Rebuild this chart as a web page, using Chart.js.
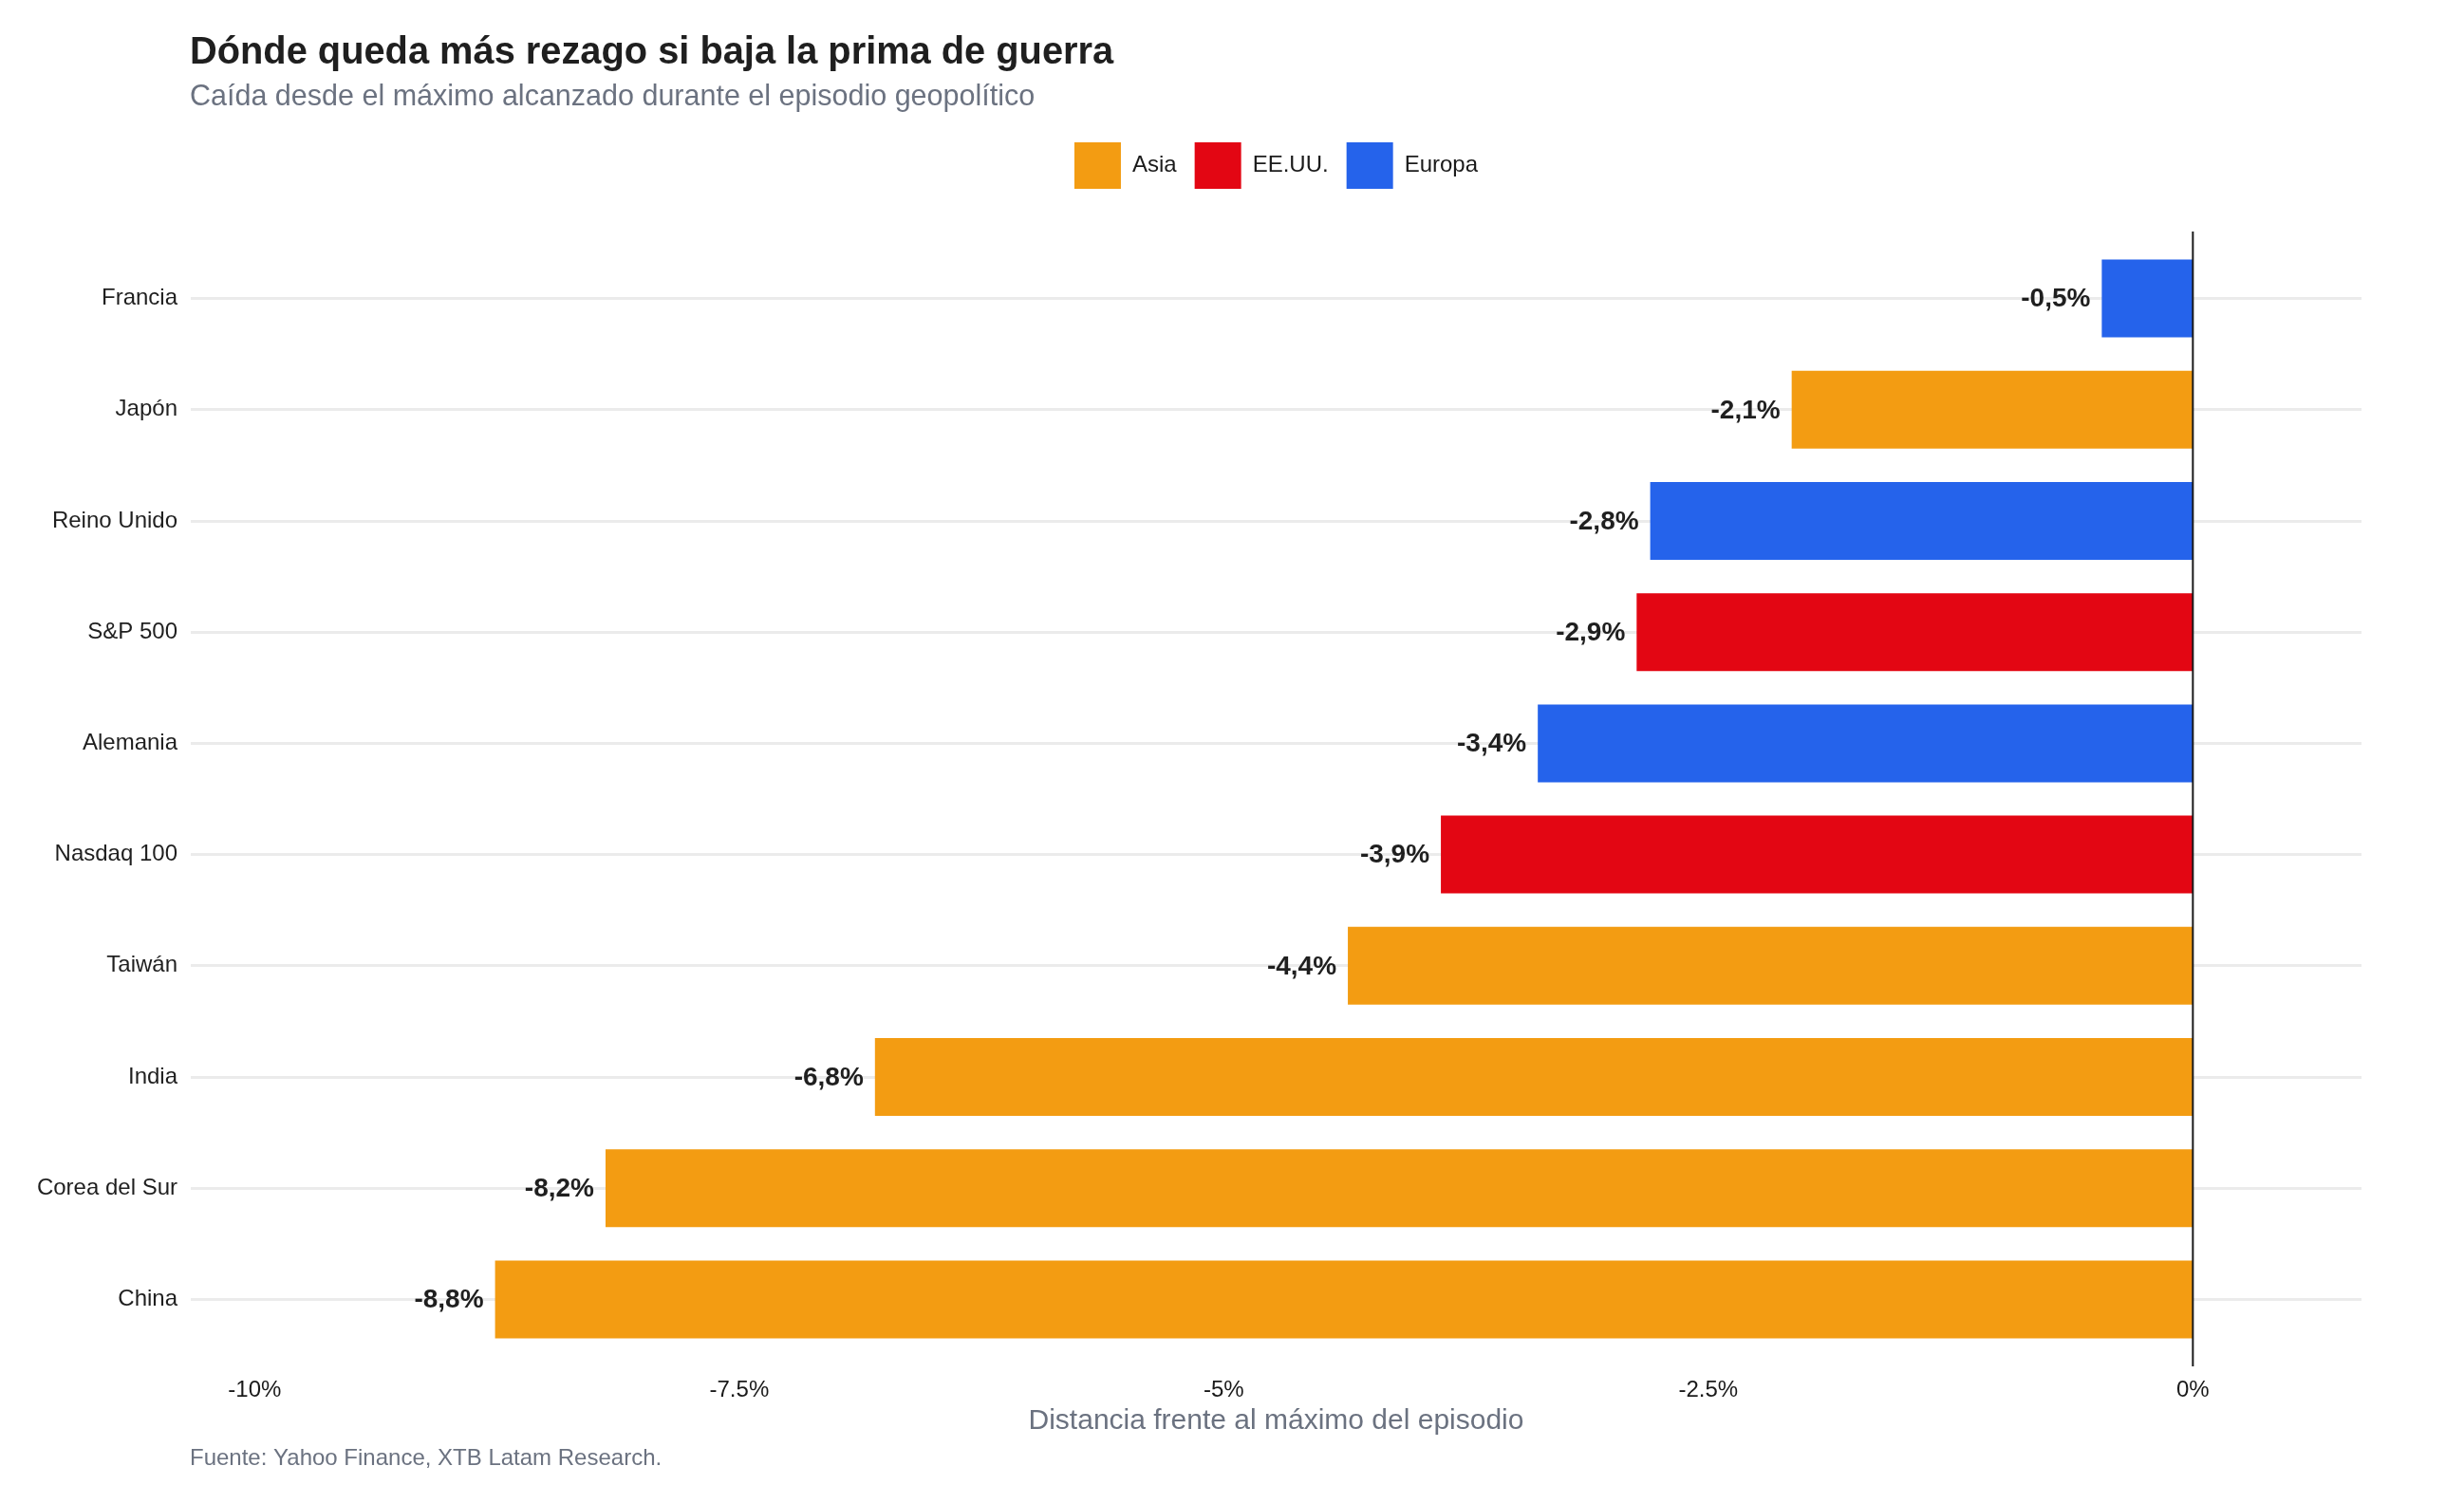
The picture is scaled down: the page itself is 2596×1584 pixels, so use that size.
<!DOCTYPE html>
<html><head><meta charset="utf-8">
<script src="https://cdn.jsdelivr.net/npm/chart.js@4.4.1/dist/chart.umd.min.js"></script>
<style>html,body{margin:0;padding:0;background:#fff;}</style>
</head><body>
<canvas id="c" width="2596" height="1584" style="width:2596px;height:1584px;display:block"></canvas>
<script>
const categories = ['Francia','Japón','Reino Unido','S&P 500','Alemania','Nasdaq 100','Taiwán','India','Corea del Sur','China'];
const values = [-0.47,-2.07,-2.80,-2.87,-3.38,-3.88,-4.36,-6.80,-8.19,-8.76];
const regions = ['Europa','Asia','Europa','EE.UU.','Europa','EE.UU.','Asia','Asia','Asia','Asia'];
const groups = ['Asia','EE.UU.','Europa'];
const groupColors = ['#f39c12','#e30613','#2563eb'];
const xTicks = [-10,-7.5,-5,-2.5,0];
const xTickLabels = ['-10%','-7.5%','-5%','-2.5%','0%'];
const titleText = 'Dónde queda más rezago si baja la prima de guerra';
const subtitleText = 'Caída desde el máximo alcanzado durante el episodio geopolítico';
const xTitleText = 'Distancia frente al máximo del episodio';
const captionText = 'Fuente: Yahoo Finance, XTB Latam Research.';

const FONT = '"Liberation Sans", Arial, Helvetica, sans-serif';
Chart.defaults.font.family = FONT;

const spacerPlugin = {
  id: 'legendSpacer',
  beforeInit(chart) {
    Chart.layouts.addBox(chart, {
      id: 'spacer', position: 'top', weight: 500, fullSize: false, options: {},
      top: 0, bottom: 0, left: 0, right: 0, width: 0, height: 0,
      isHorizontal() { return true; },
      update(maxWidth) { this.width = maxWidth; this.height = 47; },
      draw() {}
    });
  }
};

const textPlugin = {
  id: 'texts',
  afterDraw(chart) {
    const ctx = chart.ctx;
    ctx.save();
    ctx.textAlign = 'left';
    ctx.textBaseline = 'alphabetic';
    ctx.fillStyle = '#1f1f1f';
    ctx.font = 'bold 39.8px ' + FONT;
    ctx.fillText(titleText, 200, 67);
    ctx.fillStyle = '#6b7280';
    ctx.font = '30.5px ' + FONT;
    ctx.fillText(subtitleText, 200, 111);
    ctx.font = '24px ' + FONT;
    ctx.fillText(captionText, 200, 1544);
    ctx.restore();
  }
};

const zeroLinePlugin = {
  id: 'zeroLine',
  afterDatasetsDraw(chart) {
    const ctx = chart.ctx, xs = chart.scales.x, ca = chart.chartArea;
    const x = xs.getPixelForValue(0);
    ctx.save();
    ctx.strokeStyle = '#1a1a1a';
    ctx.lineWidth = 2;
    ctx.beginPath();
    ctx.moveTo(x, ca.top - 12);
    ctx.lineTo(x, ca.bottom + 12);
    ctx.stroke();
    ctx.font = 'bold 28px ' + FONT;
    ctx.fillStyle = '#1f1f1f';
    ctx.textAlign = 'right';
    ctx.textBaseline = 'middle';
    chart.data.datasets.forEach((ds, di) => {
      const meta = chart.getDatasetMeta(di);
      meta.data.forEach((el, i) => {
        const v = ds.data[i];
        if (v === null || v === undefined) return;
        const txt = v.toFixed(1).replace('.', ',') + '%';
        ctx.fillText(txt, el.x - 12, el.y + 1);
      });
    });
    ctx.restore();
  }
};

const datasets = groups.map((g, gi) => ({
  label: g,
  data: values.map((v, i) => regions[i] === g ? v : null),
  backgroundColor: groupColors[gi],
  borderWidth: 0,
  grouped: false,
  categoryPercentage: 0.7,
  barPercentage: 1
}));

new Chart(document.getElementById('c'), {
  type: 'bar',
  data: { labels: categories, datasets },
  plugins: [spacerPlugin, textPlugin, zeroLinePlugin],
  options: {
    indexAxis: 'y',
    responsive: false,
    animation: false,
    devicePixelRatio: 1,
    layout: { padding: { left: 0, right: 108, top: 131, bottom: 66 } },
    plugins: {
      title: { display: false },
      tooltip: { enabled: false },
      legend: {
        display: true,
        position: 'top',
        align: 'center',
        fullSize: false,
        labels: {
          boxWidth: 49, boxHeight: 49, padding: 19,
          color: '#1a1a1a',
          font: { size: 24, family: FONT }
        }
      }
    },
    scales: {
      x: {
        type: 'linear',
        min: -10.33, max: 0.87,
        grid: { display: false },
        border: { display: false },
        afterBuildTicks: (s) => { s.ticks = xTicks.map(v => ({ value: v })); },
        afterFit: (s) => { s.height = 90; },
        ticks: {
          color: '#1a1a1a',
          font: { size: 24, family: FONT },
          padding: 15,
          maxRotation: 0,
          callback: (v) => xTickLabels[xTicks.indexOf(v)]
        },
        title: {
          display: true,
          text: xTitleText,
          color: '#6b7280',
          font: { size: 30, family: FONT },
          padding: { top: 0, bottom: 2 }
        }
      },
      y: {
        type: 'category',
        offset: true,
        grid: { offset: false, color: '#ebebeb', lineWidth: 3, drawTicks: false },
        border: { display: false },
        afterFit: (s) => { s.width = 201; },
        ticks: {
          color: '#1f1f1f',
          font: { size: 24, family: FONT },
          padding: 14
        }
      }
    }
  }
});
</script>
</body></html>
